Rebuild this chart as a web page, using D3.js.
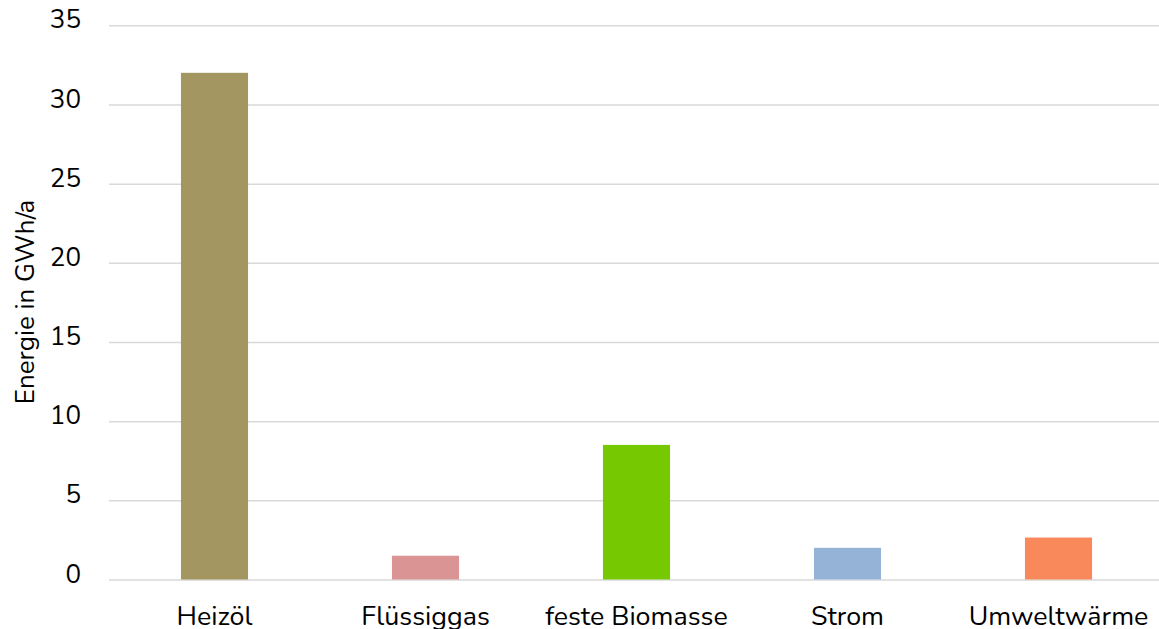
<!DOCTYPE html>
<html><head><meta charset="utf-8">
<script src="https://cdn.jsdelivr.net/npm/d3@7"></script>
<style>html,body{margin:0;padding:0;background:#fff;}svg{display:block;}</style>
</head><body>
<svg id="c" width="1159" height="629"></svg>
<script>
const categories = ["Heizöl", "Flüssiggas", "feste Biomasse", "Strom", "Umweltwärme"];
const values = [32.0, 1.5, 8.5, 2.0, 2.65];
const colors = ["#a39660", "#da9494", "#76c800", "#95b3d7", "#f9895a"];
const yTicks = [0, 5, 10, 15, 20, 25, 30, 35];
const yTitle = "Energie in GWh/a";

const font = "Nunito, Lato, sans-serif";
const svg = d3.select("#c");
const x = d3.scaleBand().domain(categories).range([109, 1164]).paddingInner(0.682).paddingOuter(0.341);
const y = d3.scaleLinear().domain([0, 35]).range([579.5, 25.3]);

const grid = svg.append("g")
  .call(d3.axisLeft(y).tickValues(yTicks).tickSize(-(1164 - 109)).tickFormat(""))
  .attr("transform", "translate(109,0)");
grid.select(".domain").remove();
grid.selectAll(".tick line").attr("stroke", "#d9d9d9").attr("stroke-width", 1.5);

const yl = svg.append("g").attr("transform", "translate(81,0)")
  .call(d3.axisLeft(y).tickValues(yTicks).tickSize(0).tickPadding(0));
yl.select(".domain").remove();
yl.selectAll("text").attr("font-family", font).attr("font-size", 26).attr("fill", "#000").attr("dy", "0.1em");

svg.append("g").selectAll("rect").data(values).join("rect")
  .attr("x", (d, i) => x(categories[i]))
  .attr("width", x.bandwidth())
  .attr("y", d => y(d))
  .attr("height", d => y(0) - y(d))
  .attr("fill", (d, i) => colors[i]);

const xl = svg.append("g").attr("transform", "translate(0,579.5)")
  .call(d3.axisBottom(x).tickSize(0).tickPadding(0));
xl.select(".domain").remove();
xl.selectAll("text").attr("font-family", font).attr("font-size", 26.8).attr("fill", "#000").attr("dy", null).attr("y", 45.5);

svg.append("text").attr("transform", "translate(34,302) rotate(-90)")
  .attr("text-anchor", "middle").attr("font-family", font).attr("font-size", 26).attr("fill", "#000")
  .text(yTitle);
</script>
</body></html>
